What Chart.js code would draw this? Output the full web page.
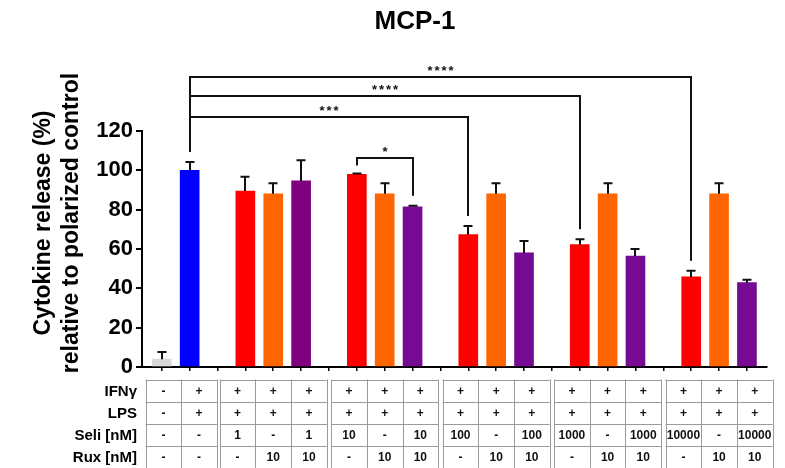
<!DOCTYPE html>
<html>
<head>
<meta charset="utf-8">
<script src="https://cdn.jsdelivr.net/npm/chart.js@4"></script>
<style>
html,body{margin:0;padding:0;background:#fff;}
canvas{display:block;}
</style>
</head>
<body>
<canvas id="c" width="785" height="468"></canvas>
<script>
// ---------- data ----------
const chartTitle = 'MCP-1';
const yTitleLines = ['Cytokine release (%)', 'relative to polarized control'];
const slotCount = 22; // category slots on the x axis (including empty gap slots)
const xIndex    = [0, 1, 3, 4, 5, 7, 8, 9, 11, 12, 13, 15, 16, 17, 19, 20, 21];
const barKind   = ['ctrl','pol','seli','rux','combo1','seli','rux','combo','seli','rux','combo','seli','rux','combo','seli','rux','combo'];
const barValues = [4, 100, 89.5, 88.1, 94.6, 98, 88.1, 81.5, 67.3, 88.1, 58, 62.2, 88.1, 56.4, 45.8, 88.1, 42.9];
const barErrors = [3.6, 4.3, 7.3, 5.3, 10.5, 0.4, 5.3, 0.5, 4.4, 5.3, 6.1, 2.7, 5.3, 3.6, 3.2, 5.3, 1.5];
const yTicks    = [0, 20, 40, 60, 80, 100, 120];

// significance brackets
const sigFrom   = [1, 1, 1, 7];
const sigTo     = [19, 15, 11, 9];
const sigLevel  = [147.4, 137.6, 127.3, 106.3];
const sigLabel  = ['****', '****', '***', '*'];

// treatment table
const rowLabels = ['IFN\u03b3', 'LPS', 'Seli [nM]', 'Rux [nM]'];
const ifnRow  = ['-','+','+','+','+','+','+','+','+','+','+','+','+','+','+','+','+'];
const lpsRow  = ['-','+','+','+','+','+','+','+','+','+','+','+','+','+','+','+','+'];
const seliRow = ['-','-','1','-','1','10','-','10','100','-','100','1000','-','1000','10000','-','10000'];
const ruxRow  = ['-','-','-','10','10','-','10','10','-','10','10','-','10','10','-','10','10'];
const tableGroups  = [[0,1],[2,3,4],[5,6,7],[8,9,10],[11,12,13],[14,15,16]];
const groupCenters = [0.7, 4, 8, 12, 16, 20];

// ---------- styles ----------
const kindColor = {ctrl:'#d9d9d9', pol:'#0000ff', seli:'#ff0000', rux:'#ff6600', combo1:'#800080', combo:'#760a93'};
const FONT = '"Liberation Sans", Arial, sans-serif';

const overlay = {
  id: 'overlay',
  afterDraw(chart) {
    const ctx = chart.ctx;
    const xs = chart.scales.x, ys = chart.scales.y, area = chart.chartArea;
    ctx.save();
    // error bars
    ctx.strokeStyle = '#111';
    ctx.lineWidth = 2;
    xIndex.forEach((xi, i) => {
      const px = Math.round(xs.getPixelForValue(xi));
      const b = ys.getPixelForValue(barValues[i]);
      const t = ys.getPixelForValue(barValues[i] + barErrors[i]);
      ctx.beginPath();
      ctx.moveTo(px, b); ctx.lineTo(px, t);
      ctx.moveTo(px - 4.5, t); ctx.lineTo(px + 4.5, t);
      ctx.stroke();
    });
    // brackets
    ctx.lineWidth = 2;
    ctx.fillStyle = '#111';
    sigFrom.forEach((f, k) => {
      const fi = xIndex.indexOf(f), ti = xIndex.indexOf(sigTo[k]);
      const x1 = Math.round(xs.getPixelForValue(f)), x2 = Math.round(xs.getPixelForValue(sigTo[k]));
      const yl = Math.round(ys.getPixelForValue(sigLevel[k]));
      const gapL = k === 3 ? 8 : 10;
      const y1 = ys.getPixelForValue(barValues[fi] + barErrors[fi]) - gapL;
      const y2 = ys.getPixelForValue(barValues[ti] + barErrors[ti]) - 10;
      ctx.beginPath();
      ctx.moveTo(x1, y1); ctx.lineTo(x1, yl); ctx.lineTo(x2, yl); ctx.lineTo(x2, y2);
      ctx.stroke();
      ctx.font = 'bold 13px ' + FONT;
      ctx.textAlign = 'center';
      ctx.textBaseline = 'alphabetic';
      ctx.letterSpacing = '2px';
      ctx.fillText(sigLabel[k], (x1 + x2) / 2 + 1, yl - 2);
      ctx.letterSpacing = '0px';
    });
    // title
    ctx.fillStyle = '#000';
    ctx.font = 'bold 26px ' + FONT;
    ctx.textAlign = 'center';
    ctx.textBaseline = 'middle';
    ctx.fillText(chartTitle, 415, 22);
    // y title
    ctx.font = 'bold 23px ' + FONT;
    ctx.textBaseline = 'alphabetic';
    const yc = 223;
    [50, 78].forEach((bx, i) => {
      ctx.save();
      ctx.translate(bx, yc);
      ctx.rotate(-Math.PI / 2);
      ctx.fillText(yTitleLines[i], 0, 0);
      ctx.restore();
    });
    // table
    const rows = [ifnRow, lpsRow, seliRow, ruxRow];
    const unit = xs.getPixelForValue(1) - xs.getPixelForValue(0);
    const colW = unit * 1.28;
    const top = area.bottom + 12.5;
    const rowH = 22.1;
    ctx.font = 'bold 15px ' + FONT;
    ctx.textAlign = 'right';
    ctx.textBaseline = 'middle';
    rowLabels.forEach((l, r) => ctx.fillText(l, 137, top + rowH * (r + 0.5) + 1));
    ctx.font = 'bold 12px ' + FONT;
    ctx.textAlign = 'center';
    ctx.strokeStyle = '#9a9a9a';
    ctx.lineWidth = 1;
    tableGroups.forEach((g, gi) => {
      const cx = xs.getPixelForValue(groupCenters[gi]);
      const left = cx - g.length * colW / 2;
      const w = g.length * colW;
      ctx.beginPath();
      for (let r = 0; r <= 4; r++) {
        const yy = Math.round(top + r * rowH) + 0.5;
        ctx.moveTo(left, yy); ctx.lineTo(left + w, yy);
      }
      for (let c = 0; c <= g.length; c++) {
        const xx = Math.round(left + c * colW) + 0.5;
        ctx.moveTo(xx, top); ctx.lineTo(xx, top + 4 * rowH);
      }
      ctx.stroke();
      g.forEach((bi, c) => {
        rows.forEach((row, r) => {
          ctx.fillStyle = '#111';
          ctx.fillText(row[bi], left + (c + 0.5) * colW, top + rowH * (r + 0.5) + 1);
        });
      });
    });
    ctx.restore();
  }
};

new Chart(document.getElementById('c'), {
  type: 'bar',
  data: {
    datasets: [{
      data: xIndex.map((x, i) => ({x: x, y: barValues[i]})),
      backgroundColor: barKind.map(k => kindColor[k]),
      borderWidth: 0,
      barThickness: 19
    }]
  },
  options: {
    responsive: false,
    devicePixelRatio: 1,
    animation: false,
    layout: {padding: {top: 131, right: 18, left: 0, bottom: 0}},
    plugins: {legend: {display: false}, tooltip: {enabled: false}, title: {display: false}},
    scales: {
      x: {
        type: 'linear',
        offset: false,
        min: -0.71,
        max: slotCount - 1 + 0.72,
        afterBuildTicks(scale) { scale.ticks = Array.from({length: slotCount}, (_, i) => ({value: i})); },
        afterFit(scale) { scale.height = 101; },
        ticks: {callback: () => '', padding: 0},
        grid: {drawOnChartArea: false, offset: false, color: '#000', lineWidth: 1.5, tickLength: 4},
        border: {color: '#000', width: 2}
      },
      y: {
        min: 0, max: 120,
        afterBuildTicks(scale) { scale.ticks = yTicks.map(v => ({value: v})); },
        afterFit(scale) { scale.width = 142; },
        ticks: {color: '#000', font: {family: FONT, size: 22, weight: 'bold'}, padding: 3},
        grid: {drawOnChartArea: false, color: '#000', lineWidth: 2, tickLength: 6},
        border: {color: '#000', width: 2}
      }
    }
  },
  plugins: [overlay]
});
</script>
</body>
</html>
